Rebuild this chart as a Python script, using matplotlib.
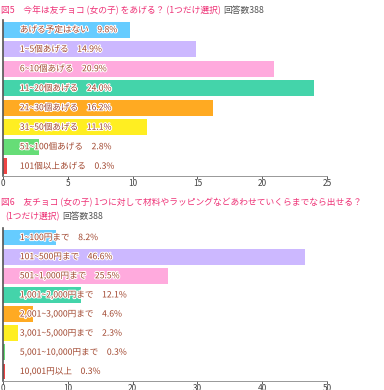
import matplotlib
matplotlib.use("Agg")
import matplotlib.pyplot as plt
import matplotlib.patheffects as pe

plt.rcParams['font.family'] = ['Noto Sans CJK JP', 'DejaVu Sans']

cats1 = ["あげる予定はない", "1~5個あげる", "6~10個あげる", "11~20個あげる",
         "21~30個あげる", "31~50個あげる", "51~100個あげる", "101個以上あげる"]
vals1 = [9.8, 14.9, 20.9, 24.0, 16.2, 11.1, 2.8, 0.3]
ticks1 = [0, 5, 10, 15, 20, 25]

cats2 = ["1~100円まで", "101~500円まで", "501~1,000円まで", "1,001~2,000円まで",
         "2,001~3,000円まで", "3,001~5,000円まで", "5,001~10,000円まで", "10,001円以上"]
vals2 = [8.2, 46.6, 25.5, 12.1, 4.6, 2.3, 0.3, 0.3]
ticks2 = [0, 10, 20, 30, 40, 50]

title1 = "図5　今年は友チョコ (女の子) をあげる？ (1つだけ選択)"
title2a = "図6　友チョコ (女の子) 1つに対して材料やラッピングなどあわせていくらまでなら出せる？"
title2b = "(1つだけ選択)"
count_label = "回答数388"

colors = ["#66CCFF", "#CCB8FF", "#FFAADD", "#44D4AA", "#FFAA22", "#FFEE22", "#66DD77", "#EE4444"]
pink = "#EE3377"
textc = "#A0452D"

fig = plt.figure(figsize=(3.84, 3.90), dpi=100)

def draw(ax, cats, vals, ticks):
    y = list(range(len(cats)))
    ax.barh(y, vals, height=0.82, color=colors)
    ax.set_ylim(len(cats) - 0.5, -0.5)
    ax.set_xlim(ticks[0], ticks[-1])
    ax.set_xticks(ticks)
    ax.set_yticks([])
    for yi, c, v in zip(y, cats, vals):
        ax.text(ticks[-1] * 0.052, yi, f"{c}　{v:.1f}%", va="center", ha="left",
                fontsize=6.2, color=textc,
                path_effects=[pe.withStroke(linewidth=1.5, foreground="white")])
    for s in ["top", "right"]:
        ax.spines[s].set_visible(False)
    ax.spines["left"].set_color("#555555")
    ax.spines["bottom"].set_color("#888888")
    ax.spines["left"].set_linewidth(1.2)
    ax.spines["bottom"].set_linewidth(0.6)
    ax.tick_params(axis="x", labelsize=6, colors="#444444", length=2, pad=0.5, width=0.6)

ax1 = fig.add_axes([3/384, 1 - 176/390, 324/384, 156/390])
draw(ax1, cats1, vals1, ticks1)
ax2 = fig.add_axes([3/384, 1 - 381/390, 324/384, 153/390])
draw(ax2, cats2, vals2, ticks2)

renderer = fig.canvas.get_renderer()

def title_with_count(x, y, text, size):
    t = fig.text(x, y, text, color=pink, fontsize=size, va="center", ha="left")
    bb = t.get_window_extent(renderer=renderer)
    fig.text((bb.x1 + 3) / fig.bbox.width, y, count_label, color="#555555",
             fontsize=size, va="center", ha="left")

title_with_count(1/384, 1 - 10/390, title1, 6.3)
fig.text(1/384, 1 - 203/390, title2a, color=pink, fontsize=6.3, va="center", ha="left")
title_with_count(5/384, 1 - 217/390, title2b, 6.3)

fig.savefig("out.png", dpi=100)
